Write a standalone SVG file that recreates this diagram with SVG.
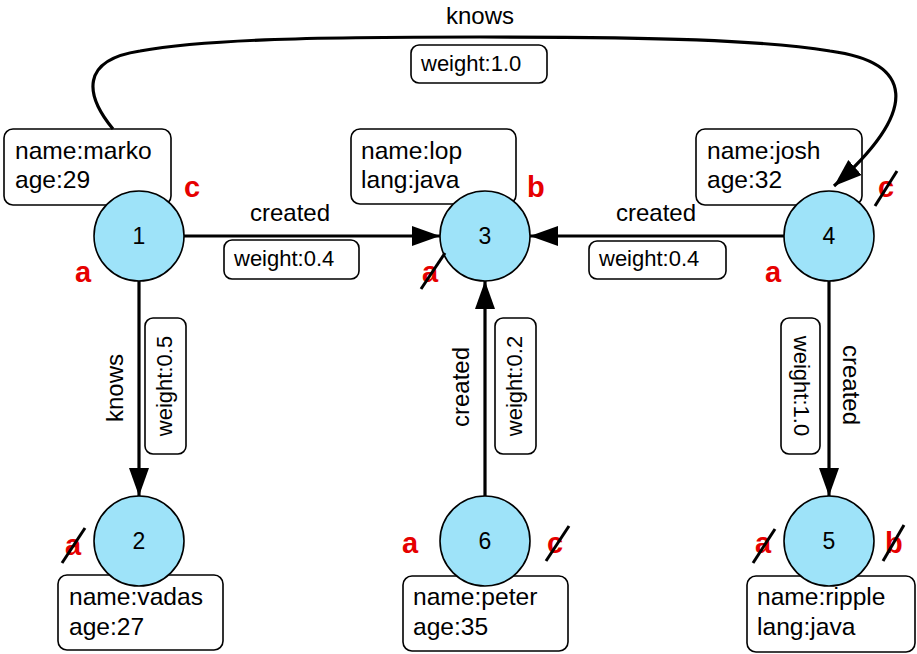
<svg xmlns="http://www.w3.org/2000/svg" width="917" height="654" viewBox="0 0 917 654">
<style>
text{font-family:"Liberation Sans",Arial,sans-serif;fill:#000}
.prop{fill:#fff;stroke:#000;stroke-width:1.6}
.pt{font-size:24.6px}
.circ{fill:#9ee3f9;stroke:#000;stroke-width:1.6}
.num{font-size:23px;text-anchor:middle}
.role{font-size:29px;font-weight:bold;fill:#e60000}
.strike{stroke:#000;stroke-width:3;stroke-linecap:butt}
.edge{fill:none;stroke:#000;stroke-width:3.2;marker-end:url(#arr)}
.el{font-size:24px;text-anchor:middle}
.wbox{fill:#fff;stroke:#000;stroke-width:1.6}
.wt{font-size:22px}
.wtc{font-size:22px;text-anchor:middle}
</style>
<defs>
<marker id="arr" markerUnits="userSpaceOnUse" markerWidth="30" markerHeight="22" refX="28" refY="10" orient="auto">
<path d="M0,0 L28,10 L0,20 z" fill="#000"/>
</marker>
</defs>

<g id="node1">
<rect class="prop" x="4" y="129" width="167" height="76" rx="9"/>
<text class="pt" x="15" y="159">name:marko</text>
<text class="pt" x="15" y="188">age:29</text>
<circle class="circ" cx="139" cy="236" r="45"/>
<text class="num" x="139" y="244">1</text>
<text class="role" x="184" y="197">c</text>
<text class="role" x="75" y="282">a</text>
</g>

<g id="node3">
<rect class="prop" x="351" y="129" width="165" height="75" rx="9"/>
<text class="pt" x="361" y="159">name:lop</text>
<text class="pt" x="361" y="188">lang:java</text>
<circle class="circ" cx="485" cy="236" r="45"/>
<text class="num" x="485" y="244">3</text>
<text class="role" x="527" y="197">b</text>
<text class="role" x="422" y="282">a</text>
<line class="strike" x1="421" y1="289" x2="445" y2="253"/>
</g>

<g id="node4">
<rect class="prop" x="696" y="129" width="166" height="76" rx="9"/>
<text class="pt" x="707" y="159">name:josh</text>
<text class="pt" x="707" y="188">age:32</text>
<circle class="circ" cx="829" cy="236" r="45"/>
<text class="num" x="829" y="244">4</text>
<text class="role" x="878" y="197">c</text>
<line class="strike" x1="875" y1="206" x2="897" y2="171"/>
<text class="role" x="765" y="282">a</text>
</g>

<g id="node2">
<rect class="prop" x="58" y="575" width="165" height="75" rx="9"/>
<text class="pt" x="69" y="605">name:vadas</text>
<text class="pt" x="69" y="635">age:27</text>
<circle class="circ" cx="139" cy="541" r="45"/>
<text class="num" x="139" y="549">2</text>
<text class="role" x="65" y="555">a</text>
<line class="strike" x1="62" y1="563" x2="85" y2="528"/>
</g>

<g id="node6">
<rect class="prop" x="403" y="576" width="165" height="75" rx="9"/>
<text class="pt" x="413" y="605">name:peter</text>
<text class="pt" x="413" y="635">age:35</text>
<circle class="circ" cx="485" cy="541" r="45"/>
<text class="num" x="485" y="549">6</text>
<text class="role" x="402" y="553">a</text>
<text class="role" x="547" y="553">c</text>
<line class="strike" x1="546" y1="561" x2="569" y2="526"/>
</g>

<g id="node5">
<rect class="prop" x="747" y="576" width="168" height="76" rx="9"/>
<text class="pt" x="757" y="605">name:ripple</text>
<text class="pt" x="757" y="635">lang:java</text>
<circle class="circ" cx="829" cy="541" r="45"/>
<text class="num" x="829" y="549">5</text>
<text class="role" x="755" y="553">a</text>
<line class="strike" x1="753" y1="563" x2="775" y2="529"/>
<text class="role" x="885" y="553">b</text>
<line class="strike" x1="883" y1="561" x2="904" y2="525"/>
</g>

<g id="connectors">
<path class="edge" d="M184 236 L440 236"/>
<text class="el" x="290" y="221">created</text>
<rect class="wbox" x="224" y="240" width="135" height="39" rx="8"/>
<text class="wt" x="234" y="266">weight:0.4</text>

<path class="edge" d="M784 236 L530 236"/>
<text class="el" x="656" y="221">created</text>
<rect class="wbox" x="589" y="241" width="137" height="38" rx="8"/>
<text class="wt" x="599" y="266">weight:0.4</text>

<path class="edge" d="M139 281 L139 496"/>
<text class="el" transform="translate(123,388) rotate(-90)">knows</text>
<rect class="wbox" x="145" y="318" width="41" height="136" rx="8"/>
<text class="wtc" transform="translate(172,386) rotate(-90)">weight:0.5</text>

<path class="edge" d="M485 496 L485 281"/>
<text class="el" transform="translate(469,387) rotate(-90)">created</text>
<rect class="wbox" x="495" y="318" width="41" height="136" rx="8"/>
<text class="wtc" transform="translate(522,386) rotate(-90)">weight:0.2</text>

<path class="edge" d="M829 281 L829 496"/>
<text class="el" transform="translate(843,385) rotate(90)">created</text>
<rect class="wbox" x="781" y="318" width="39" height="136" rx="8"/>
<text class="wtc" transform="translate(794,386) rotate(90)">weight:1.0</text>

<path class="edge" stroke-width="3.6" d="M113 129 C85 95 80 60 140 51 C200 40 300 37 480 37 C660 37 760 40 830 51 C912 62 922 108 834 186"/>
<text class="el" x="480" y="24">knows</text>
<rect class="wbox" x="411" y="45" width="136" height="38" rx="8"/>
<text class="wt" x="421" y="71">weight:1.0</text>
</g>
</svg>
